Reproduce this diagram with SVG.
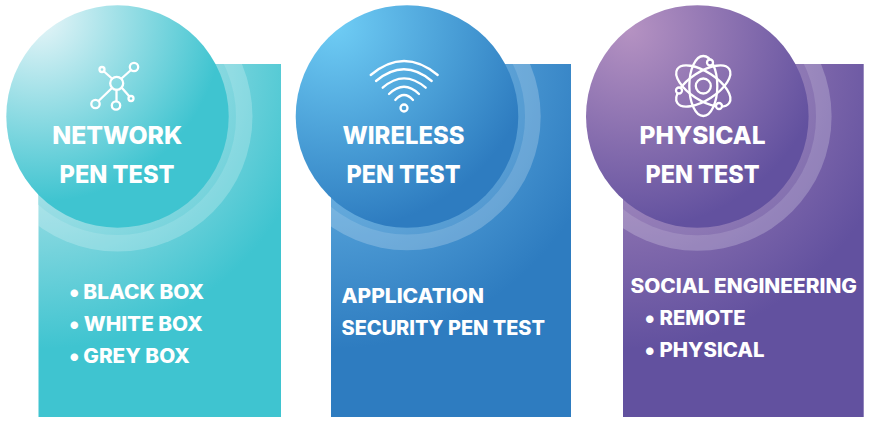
<svg xmlns="http://www.w3.org/2000/svg" width="878" height="434" viewBox="0 0 878 434">
<style>
text{font-family:"Inter","Liberation Sans",sans-serif;font-weight:800;fill:#fff}
.t{font-size:24px;text-anchor:middle}
.l{font-size:19.500px}
.b{font-size:24px}
.i{fill:none;stroke:#fff;stroke-width:2.300;stroke-linecap:round}
.s{stroke:#fff;stroke-width:2.300}
.w{fill:#fff;fill-opacity:.22}
.v{fill:#fff;fill-opacity:.1}
</style>
<defs>
<radialGradient id="r1" gradientUnits="userSpaceOnUse" cx="38" cy="64" r="285"><stop offset="0" stop-color="#dff0f3"/><stop offset="1" stop-color="#3fc4d0"/></radialGradient>
<radialGradient id="r2" gradientUnits="userSpaceOnUse" cx="331" cy="64" r="285"><stop offset="0" stop-color="#76c3ef"/><stop offset="1" stop-color="#2e7cc0"/></radialGradient>
<radialGradient id="r3" gradientUnits="userSpaceOnUse" cx="623" cy="64" r="285"><stop offset="0" stop-color="#b592c2"/><stop offset="1" stop-color="#62519f"/></radialGradient>
<radialGradient id="c1" gradientUnits="userSpaceOnUse" cx="38" cy="16" r="186"><stop offset="0" stop-color="#eaf6f9"/><stop offset="1" stop-color="#3fc4d0"/></radialGradient>
<radialGradient id="c2" gradientUnits="userSpaceOnUse" cx="335" cy="25" r="205"><stop offset="0" stop-color="#6fcdf5"/><stop offset="1" stop-color="#2e7cc0"/></radialGradient>
<radialGradient id="c3" gradientUnits="userSpaceOnUse" cx="630" cy="30" r="200"><stop offset="0" stop-color="#b592c2"/><stop offset="1" stop-color="#62519f"/></radialGradient>
<clipPath id="k1"><rect x="38.500" y="64" width="242.500" height="353"/></clipPath>
<clipPath id="k2"><rect x="331" y="64" width="240" height="353"/></clipPath>
<clipPath id="k3"><rect x="623" y="64" width="240.700" height="353"/></clipPath>
</defs>
<g id="connectors"/>
<g id="network">
<rect x="38.500" y="64" width="242.500" height="353" fill="url(#r1)"/>
<g clip-path="url(#k1)">
<circle class="w" cx="117.500" cy="116.500" r="135"/>
<circle cx="117.500" cy="116.500" r="118.500" fill="url(#r1)"/>
<circle class="v" cx="117.500" cy="116.500" r="118.500"/>
</g>
<circle cx="117.500" cy="116.500" r="111.200" fill="url(#c1)"/>
<g class="i">
<circle cx="116.700" cy="83.300" r="6.500"/><circle cx="134" cy="67" r="4.200"/><circle cx="102" cy="69.500" r="2.500"/><circle cx="95.500" cy="104" r="4.200"/><circle cx="116" cy="105.500" r="4.200"/><circle cx="131" cy="98.500" r="2.500"/>
<path d="M121.500 78.500L131 70M112 78.500L104 71.500M112 88L98.500 101M116.500 90V101M122 88L129 96"/>
</g>
<text class="t" x="117.300" y="143.500" textLength="130" lengthAdjust="spacingAndGlyphs">NETWORK</text>
<text class="t" x="117" y="183" textLength="115" lengthAdjust="spacingAndGlyphs">PEN TEST</text>
<text class="b" x="69" y="300">•</text><text class="l" x="83.300" y="298.500" textLength="120.700" lengthAdjust="spacingAndGlyphs">BLACK BOX</text>
<text class="b" x="69" y="332">•</text><text class="l" x="83.700" y="330.500" textLength="119" lengthAdjust="spacingAndGlyphs">WHITE BOX</text>
<text class="b" x="69" y="364">•</text><text class="l" x="83.300" y="362.500" textLength="106.400" lengthAdjust="spacingAndGlyphs">GREY BOX</text>
</g>
<g id="wireless">
<rect x="331" y="64" width="240" height="353" fill="url(#r2)"/>
<g clip-path="url(#k2)">
<circle class="w" cx="407" cy="116.500" r="133.700"/>
<circle cx="407" cy="116.500" r="118" fill="url(#r2)"/>
<circle class="v" cx="407" cy="116.500" r="118"/>
</g>
<circle cx="407" cy="116.500" r="111.300" fill="url(#c2)"/>
<g class="i">
<circle cx="404" cy="108" r="3.500"/>
<path d="M370.700 75Q404 47 437.700 75M376 81Q404 57.500 431.700 81M382.700 87.700Q404 69 425.700 87.700M389 94Q404 79.500 419 94M395.300 100Q404 90 413 100"/>
</g>
<text class="t" x="403.500" y="143.500" textLength="122" lengthAdjust="spacingAndGlyphs">WIRELESS</text>
<text class="t" x="403.500" y="183" textLength="114" lengthAdjust="spacingAndGlyphs">PEN TEST</text>
<text class="l" x="341.500" y="302.500" textLength="142.500" lengthAdjust="spacingAndGlyphs">APPLICATION</text>
<text class="l" x="341.500" y="334.500" textLength="203.500" lengthAdjust="spacingAndGlyphs">SECURITY PEN TEST</text>
</g>
<g id="physical">
<rect x="623" y="64" width="240.700" height="353" fill="url(#r3)"/>
<g clip-path="url(#k3)">
<circle class="w" cx="697.300" cy="116.500" r="134.300"/>
<circle cx="697.300" cy="116.500" r="118.700" fill="url(#r3)"/>
<circle class="v" cx="697.300" cy="116.500" r="118.700"/>
</g>
<circle cx="697.300" cy="116.500" r="111.300" fill="url(#c3)"/>
<g class="i">
<circle cx="703.300" cy="86" r="7.500"/>
<ellipse cx="703.300" cy="86" rx="31" ry="14" transform="rotate(33 703.300 86)"/>
<ellipse cx="703.300" cy="86" rx="31" ry="14" transform="rotate(-33 703.300 86)"/>
<ellipse cx="703.300" cy="86" rx="30" ry="14" transform="rotate(90 703.300 86)"/>
</g>
<circle class="s" cx="710" cy="62.500" r="3" fill="#7d64aa"/><circle class="s" cx="679" cy="90.500" r="3" fill="#7d64aa"/><circle class="s" cx="719" cy="106" r="3" fill="#7d64aa"/>
<text class="t" x="702.500" y="143.500" textLength="126" lengthAdjust="spacingAndGlyphs">PHYSICAL</text>
<text class="t" x="702.500" y="183" textLength="114" lengthAdjust="spacingAndGlyphs">PEN TEST</text>
<text class="l" x="630.500" y="292.500" textLength="226.500" lengthAdjust="spacingAndGlyphs">SOCIAL ENGINEERING</text>
<text class="b" x="644.500" y="326">•</text><text class="l" x="659.500" y="324.500" textLength="86" lengthAdjust="spacingAndGlyphs">REMOTE</text>
<text class="b" x="644.500" y="358">•</text><text class="l" x="659.500" y="356.500" textLength="105" lengthAdjust="spacingAndGlyphs">PHYSICAL</text>
</g>
</svg>
